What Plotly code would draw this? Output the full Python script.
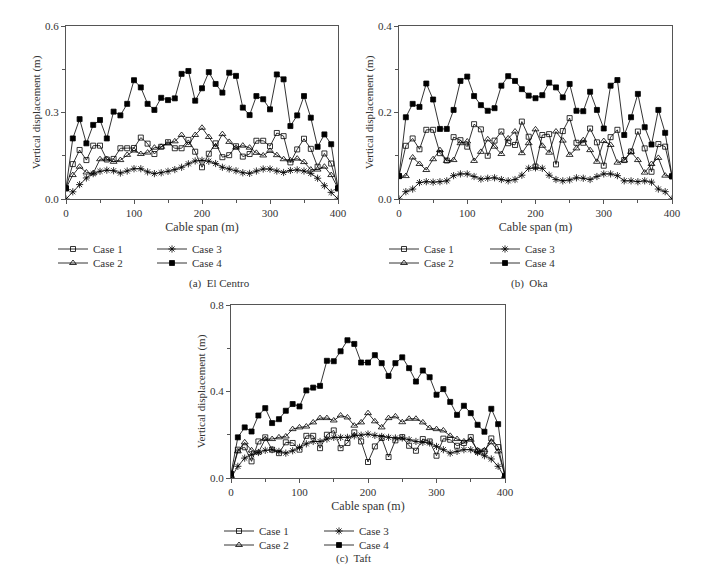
import plotly.graph_objects as go

span = list(range(0, 401, 10))

a_case1 = [0.037, 0.121, 0.170, 0.135, 0.185, 0.185, 0.137, 0.139, 0.176, 0.176, 0.177, 0.213, 0.192, 0.156,
           0.181, 0.197, 0.176, 0.176, 0.205, 0.164, 0.110, 0.157, 0.193, 0.145, 0.152, 0.183, 0.147, 0.156,
           0.202, 0.202, 0.183, 0.229, 0.218, 0.127, 0.172, 0.209, 0.174, 0.112, 0.158, 0.123, 0.037]
a_case2 = [0.037, 0.083, 0.112, 0.092, 0.089, 0.138, 0.138, 0.129, 0.135, 0.153, 0.168, 0.156, 0.161, 0.178,
           0.181, 0.193, 0.200, 0.222, 0.187, 0.222, 0.247, 0.215, 0.181, 0.225, 0.198, 0.178, 0.185, 0.178,
           0.160, 0.151, 0.167, 0.152, 0.138, 0.134, 0.140, 0.128, 0.102, 0.102, 0.112, 0.083, 0.037]
a_case3 = [0.0, 0.025, 0.050, 0.073, 0.088, 0.096, 0.100, 0.098, 0.090, 0.097, 0.105, 0.105, 0.094, 0.088,
           0.091, 0.096, 0.102, 0.110, 0.122, 0.132, 0.134, 0.131, 0.123, 0.110, 0.104, 0.098, 0.091, 0.089,
           0.097, 0.104, 0.104, 0.097, 0.092, 0.099, 0.101, 0.097, 0.089, 0.072, 0.046, 0.023, 0.0]
a_case4 = [0.037, 0.210, 0.277, 0.193, 0.257, 0.274, 0.210, 0.303, 0.290, 0.330, 0.412, 0.387, 0.330, 0.309,
           0.351, 0.343, 0.349, 0.434, 0.444, 0.341, 0.384, 0.440, 0.399, 0.369, 0.438, 0.427, 0.317, 0.291,
           0.357, 0.346, 0.311, 0.432, 0.415, 0.253, 0.290, 0.357, 0.282, 0.181, 0.224, 0.190, 0.037]

b_case1 = [0.053, 0.123, 0.140, 0.115, 0.160, 0.160, 0.106, 0.089, 0.143, 0.136, 0.121, 0.173, 0.161, 0.100,
           0.135, 0.156, 0.129, 0.125, 0.179, 0.144, 0.075, 0.148, 0.150, 0.080, 0.157, 0.187, 0.130, 0.130,
           0.163, 0.131, 0.077, 0.143, 0.160, 0.090, 0.110, 0.156, 0.117, 0.063, 0.127, 0.121, 0.053]
b_case2 = [0.053, 0.053, 0.096, 0.081, 0.067, 0.092, 0.113, 0.088, 0.090, 0.129, 0.133, 0.088, 0.109, 0.138,
           0.121, 0.104, 0.140, 0.156, 0.106, 0.129, 0.161, 0.123, 0.107, 0.156, 0.135, 0.102, 0.117, 0.136,
           0.113, 0.086, 0.134, 0.125, 0.084, 0.089, 0.109, 0.090, 0.061, 0.081, 0.095, 0.054, 0.053]
b_case3 = [0.0, 0.017, 0.023, 0.038, 0.040, 0.039, 0.040, 0.042, 0.054, 0.058, 0.058, 0.052, 0.046, 0.048,
           0.049, 0.045, 0.042, 0.045, 0.055, 0.071, 0.072, 0.071, 0.055, 0.045, 0.042, 0.044, 0.049, 0.048,
           0.045, 0.052, 0.058, 0.058, 0.054, 0.042, 0.042, 0.040, 0.042, 0.039, 0.023, 0.017, 0.0]
b_case4 = [0.053, 0.189, 0.220, 0.213, 0.267, 0.230, 0.162, 0.162, 0.206, 0.273, 0.283, 0.238, 0.217, 0.204,
           0.210, 0.262, 0.284, 0.273, 0.254, 0.239, 0.233, 0.240, 0.269, 0.258, 0.235, 0.266, 0.204, 0.203,
           0.248, 0.206, 0.163, 0.262, 0.275, 0.148, 0.189, 0.243, 0.166, 0.126, 0.206, 0.153, 0.052]

c_case1 = [0.010, 0.131, 0.142, 0.077, 0.169, 0.188, 0.131, 0.115, 0.165, 0.162, 0.131, 0.195, 0.195, 0.138,
           0.200, 0.220, 0.138, 0.162, 0.211, 0.169, 0.074, 0.146, 0.185, 0.097, 0.174, 0.189, 0.149, 0.126,
           0.180, 0.169, 0.103, 0.182, 0.177, 0.149, 0.162, 0.189, 0.123, 0.123, 0.183, 0.143, 0.010]
c_case2 = [0.010, 0.123, 0.165, 0.128, 0.118, 0.180, 0.180, 0.188, 0.192, 0.226, 0.234, 0.238, 0.257, 0.277,
           0.277, 0.266, 0.289, 0.280, 0.242, 0.257, 0.300, 0.262, 0.234, 0.277, 0.285, 0.258, 0.274, 0.274,
           0.257, 0.231, 0.226, 0.220, 0.195, 0.180, 0.169, 0.177, 0.128, 0.128, 0.165, 0.123, 0.010]
c_case3 = [0.0, 0.054, 0.092, 0.108, 0.118, 0.128, 0.131, 0.123, 0.115, 0.126, 0.142, 0.158, 0.169, 0.169,
           0.180, 0.188, 0.188, 0.188, 0.195, 0.198, 0.203, 0.197, 0.192, 0.188, 0.185, 0.185, 0.177, 0.169,
           0.165, 0.162, 0.146, 0.131, 0.115, 0.123, 0.131, 0.131, 0.118, 0.103, 0.088, 0.054, 0.0]
c_case4 = [0.020, 0.188, 0.234, 0.215, 0.289, 0.323, 0.254, 0.272, 0.311, 0.342, 0.331, 0.405, 0.418, 0.426,
           0.542, 0.540, 0.586, 0.637, 0.620, 0.534, 0.534, 0.568, 0.531, 0.472, 0.531, 0.558, 0.508, 0.446,
           0.497, 0.466, 0.385, 0.411, 0.352, 0.292, 0.334, 0.300, 0.246, 0.214, 0.320, 0.249, 0.008]

case_names = ["Case 1", "Case 2", "Case 3", "Case 4"]
symbols = ["square-open", "triangle-up-open", "asterisk-open", "square"]
sizes = [5, 6, 6, 5]

W, H = 724, 579
OFF = 8  # page body margin of the html page
def px(v): return (v - OFF) / W
def py(v): return 1 - (v - OFF) / H

# legend text anchor positions (x of text start, y of row centre), per panel, per case
legend_text_pos = [
    [(93, 249), (93, 263), (192, 249), (192, 263)],
    [(424, 249), (424, 263), (525, 249), (525, 263)],
    [(259, 531), (259, 545), (359, 531), (359, 545)],
]

panels = [
    ("x", "y", [a_case1, a_case2, a_case3, a_case4]),
    ("x2", "y2", [b_case1, b_case2, b_case3, b_case4]),
    ("x3", "y3", [c_case1, c_case2, c_case3, c_case4]),
]

FONT = "Liberation Serif"
fig = go.Figure()
leg_layout = {}
n = 0
for p, (xa, ya, series) in enumerate(panels):
    for i, (name, vals) in enumerate(zip(case_names, series)):
        n += 1
        lname = "legend" if n == 1 else f"legend{n}"
        fig.add_trace(go.Scatter(
            x=span, y=vals, name=name, mode="lines+markers",
            xaxis=xa, yaxis=ya, legend=lname, showlegend=True,
            line=dict(color="black", width=0.8),
            marker=dict(symbol=symbols[i], size=sizes[i], color="black",
                        line=dict(color="black", width=0.8)),
        ))
        tx, ty = legend_text_pos[p][i]
        leg_layout[lname] = dict(x=px(tx - 40), y=py(ty), xanchor="left", yanchor="middle",
                                 font=dict(family=FONT, size=11, color="#333"),
                                 bgcolor="rgba(0,0,0,0)", itemwidth=30)

axis_common = dict(showline=True, mirror=True, linecolor="#555", linewidth=1, automargin=False,
                   ticks="outside", ticklen=4, tickcolor="#555", showgrid=False, zeroline=False,
                   tickfont=dict(family=FONT, size=11, color="#333"))

def xaxis(dom, anchor):
    return dict(domain=dom, anchor=anchor, range=[0, 400], tickvals=[0, 100, 200, 300, 400],
                minor=dict(dtick=50, tick0=0, ticks="outside", ticklen=3, tickcolor="#555"),
                title=dict(text="Cable span (m)", font=dict(family=FONT, size=12, color="#333"), standoff=4),
                **axis_common)

def yaxis(dom, anchor, top, step):
    return dict(domain=dom, anchor=anchor, range=[0, top], dtick=step, tickformat=".1f",
                minor=dict(dtick=step / 2, tick0=0, ticks="outside", ticklen=3, tickcolor="#555"),
                title=dict(text="Vertical displacement (m)", font=dict(family=FONT, size=11, color="#333"), standoff=2),
                **axis_common)

fig.update_layout(
    width=W, height=H, paper_bgcolor="white", plot_bgcolor="white",
    showlegend=True,
    margin=dict(l=0, r=0, t=0, b=0, autoexpand=False),
    xaxis=xaxis([px(66), px(338)], "y"),
    yaxis=yaxis([py(199), py(26)], "x", 0.6, 0.3),
    xaxis2=xaxis([px(399), px(672)], "y2"),
    yaxis2=yaxis([py(199), py(26)], "x2", 0.4, 0.2),
    xaxis3=xaxis([px(231), px(505)], "y3"),
    yaxis3=yaxis([py(478), py(305)], "x3", 0.8, 0.4),
)
fig.update_layout(leg_layout)

captions = [("(a)  El Centro", 187, 284), ("(b)  Oka", 550, 284), ("(c)  Taft", 353, 567)]
for text, cx, cy in captions:
    fig.add_annotation(text=text, x=px(cx), y=py(cy), xref="paper", yref="paper",
                       showarrow=False, font=dict(family=FONT, size=11, color="#333"))

fig.write_html("out.html")
